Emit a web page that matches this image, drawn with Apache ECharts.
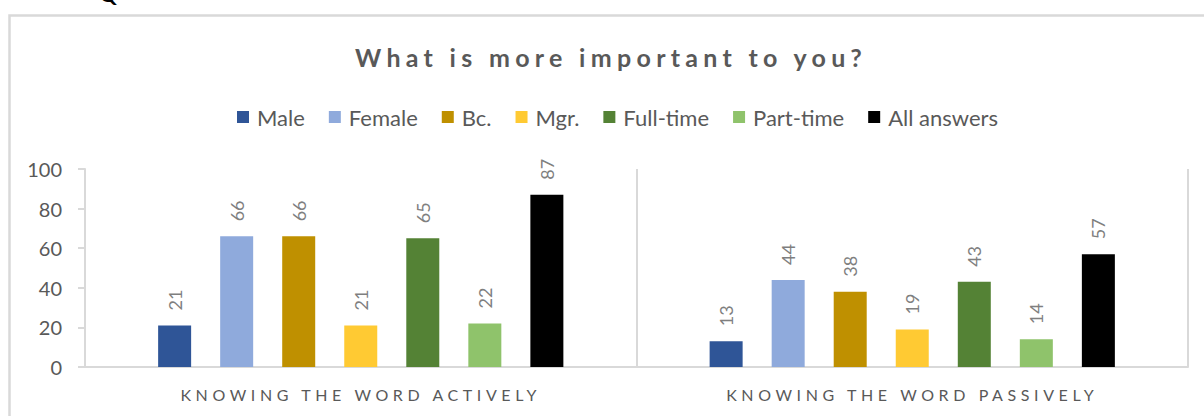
<!DOCTYPE html>
<html>
<head>
<meta charset="utf-8">
<script src="https://cdn.jsdelivr.net/npm/echarts@6/dist/echarts.min.js"></script>
<style>
  html, body { margin: 0; padding: 0; background: #ffffff; }
  #chart { width: 1204px; height: 416px; }
</style>
</head>
<body>
<div id="chart"></div>
<script>
// Survey groups and their answers (per cent)
const categories = ['KNOWING THE WORD ACTIVELY', 'KNOWING THE WORD PASSIVELY'];
const seriesNames = ['Male', 'Female', 'Bc.', 'Mgr.', 'Full-time', 'Part-time', 'All answers'];
const male = [21, 13];
const female = [66, 44];
const bachelor = [66, 38];
const master = [21, 19];
const fullTime = [65, 43];
const partTime = [22, 14];
const allAnswers = [87, 57];
const yMin = 0;
const yMax = 100;
const yStep = 20;
const chartTitle = 'What is more important to you?';

const seriesValues = [male, female, bachelor, master, fullTime, partTime, allAnswers];
const palette = ['#2f5597', '#8faadc', '#bf9000', '#ffca33', '#548235', '#8fc36b', '#000000'];
const textGray = '#595959';
const lineGray = '#d9d9d9';
const font = 'Lato';

const dom = document.getElementById('chart');
const chart = echarts.init(dom, null, { renderer: 'svg' });

const series = seriesNames.map((name, i) => ({
  name: name,
  type: 'bar',
  data: seriesValues[i],
  barWidth: 33,
  barGap: '88%',
  itemStyle: { color: palette[i] },
  label: {
    show: true,
    position: 'top',
    rotate: 90,
    align: 'left',
    verticalAlign: 'middle',
    distance: 15,
    fontFamily: font,
    fontSize: 18,
    color: '#7f7f7f'
  }
}));

chart.setOption({
  animation: false,
  color: palette,
  title: {
    text: chartTitle,
    left: 350,
    top: 39,
    textStyle: { fontFamily: font, fontSize: 25, fontWeight: 'bold', color: textGray }
  },
  legend: {
    data: seriesNames,
    top: 101,
    left: 232,
    icon: 'rect',
    itemWidth: 12,
    itemHeight: 12,
    itemGap: 24,
    textStyle: { fontFamily: font, fontSize: 22, color: textGray, padding: [0, 0, 0, 3] }
  },
  grid: { left: 85, right: 16, top: 169, bottom: 49, containLabel: false },
  xAxis: {
    type: 'category',
    data: categories,
    axisLine: { show: true, lineStyle: { color: lineGray, width: 2 } },
    axisTick: { show: false },
    splitLine: { show: true, lineStyle: { color: lineGray, width: 2 } },
    axisLabel: { fontFamily: font, fontSize: 16, color: textGray, margin: 19 }
  },
  yAxis: {
    type: 'value',
    min: yMin,
    max: yMax,
    interval: yStep,
    axisLine: { show: true, lineStyle: { color: lineGray, width: 2 } },
    axisTick: { show: true, length: 7, lineStyle: { color: lineGray, width: 2 } },
    splitLine: { show: false },
    axisLabel: { fontFamily: font, fontSize: 20, color: textGray, margin: 23 }
  },
  graphic: [
    {
      type: 'rect',
      shape: { x: 9.5, y: 15.5, width: 1400, height: 600 },
      style: { fill: 'none', stroke: lineGray, lineWidth: 2.5 },
      silent: true,
      z: -1
    },
    {
      type: 'text',
      left: 99,
      top: -18,
      style: { text: 'Q', fontFamily: font, fontSize: 22, fontWeight: 'bold', fill: '#000000' },
      silent: true
    }
  ],
  series: series
});

// Spaced lettering for the title and the category names
function spaceLetters() {
  dom.querySelectorAll('text').forEach(t => {
    const s = t.textContent;
    if (s === chartTitle) t.style.letterSpacing = '5.3px';
    else if (categories.indexOf(s) >= 0) t.style.letterSpacing = '4.6px';
  });
}
chart.on('finished', spaceLetters);
spaceLetters();
</script>
</body>
</html>
